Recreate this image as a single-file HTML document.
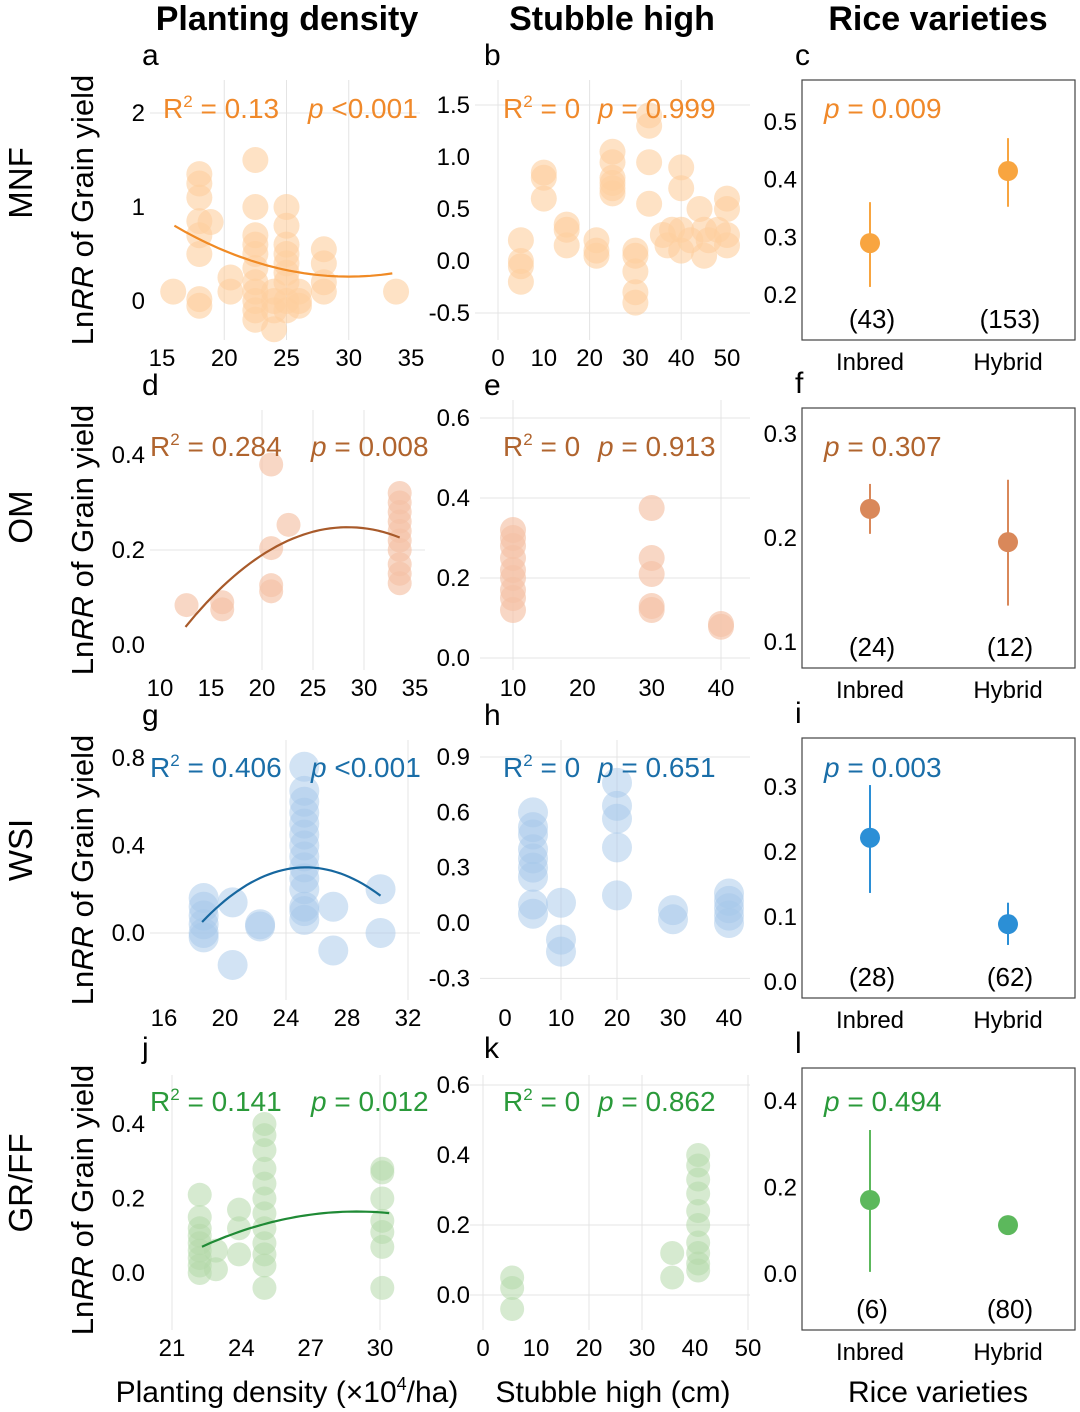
<!DOCTYPE html>
<html><head><meta charset="utf-8"><style>
html,body{margin:0;padding:0;background:#fff;}
svg{display:block;font-family:"Liberation Sans",sans-serif;}
</style></head><body>
<svg id="fig" width="1080" height="1412" viewBox="0 0 1080 1412" xmlns="http://www.w3.org/2000/svg">
<g id="static">
<text x="287" y="30" font-size="34" font-weight="bold" text-anchor="middle">Planting density</text>
<text x="612" y="30" font-size="34" font-weight="bold" text-anchor="middle">Stubble high</text>
<text x="938" y="30" font-size="34" font-weight="bold" text-anchor="middle">Rice varieties</text>
<text transform="translate(32,183) rotate(-90)" font-size="33" text-anchor="middle">MNF</text>
<text transform="translate(32,517) rotate(-90)" font-size="33" text-anchor="middle">OM</text>
<text transform="translate(32,850) rotate(-90)" font-size="33" text-anchor="middle">WSI</text>
<text transform="translate(32,1183) rotate(-90)" font-size="33" text-anchor="middle">GR/FF</text>
<text transform="translate(93,210) rotate(-90)" font-size="31" text-anchor="middle">Ln<tspan font-style="italic">RR</tspan> of Grain yield</text>
<text transform="translate(93,540) rotate(-90)" font-size="31" text-anchor="middle">Ln<tspan font-style="italic">RR</tspan> of Grain yield</text>
<text transform="translate(93,870) rotate(-90)" font-size="31" text-anchor="middle">Ln<tspan font-style="italic">RR</tspan> of Grain yield</text>
<text transform="translate(93,1200) rotate(-90)" font-size="31" text-anchor="middle">Ln<tspan font-style="italic">RR</tspan> of Grain yield</text>
<text x="287" y="1402" font-size="30" text-anchor="middle">Planting density (×10<tspan font-size="18" dy="-12">4</tspan><tspan dy="12">/ha)</tspan></text>
<text x="613" y="1402" font-size="30" text-anchor="middle">Stubble high (cm)</text>
<text x="938" y="1402" font-size="30" text-anchor="middle">Rice varieties</text>
</g>
</svg>
<script>
// ---------- data ----------
const aX=[15.9,18,18,18,18,18,18,18,18,18.9,20.5,20.5,22.5,22.5,22.5,22.5,22.5,22.5,22.5,22.5,22.5,22.5,22.5,24,24,24,24,25,25,25,25,25,25,25,25,25,26,26,26,28,28,28,28,33.8];
const aY=[0.1,1.35,1.25,1.1,0.85,0.7,0.5,0.02,-0.05,0.84,0.25,0.1,1.5,1.0,0.7,0.6,0.5,0.35,0.2,0.1,0,-0.1,-0.2,-0.3,-0.1,0,0.1,1.0,0.8,0.6,0.5,0.4,0.3,0.2,0,-0.1,0.1,0,-0.05,0.55,0.4,0.2,0.1,0.1];
const aFit=[0.26,30,0.00276]; const aFitRange=[16,33.5];
const bX=[5,5,5,5,10,10,10,15,15,15,21.5,21.5,21.5,25,25,25,25,25,25,30,30,30,30,30,33,33,33,33,36,37,38,40,40,40,40,42,44,45,45,46,48,50,50,50,50];
const bY=[0.2,0,-0.05,-0.2,0.85,0.8,0.6,0.35,0.3,0.15,0.2,0.1,0.05,1.05,0.95,0.8,0.75,0.7,0.65,0.1,0.05,-0.1,-0.3,-0.4,1.4,1.3,0.95,0.55,0.25,0.15,0.3,0.9,0.7,0.3,0.1,0.2,0.5,0.3,0.05,0.2,0.3,0.6,0.5,0.25,0.15];
const cMean=[0.29,0.415]; const cLo=[0.214,0.353]; const cHi=[0.361,0.472]; const cN=["(43)","(153)"];
const dX=[12.6,16.1,16.1,20.9,20.9,20.9,20.9,22.6,33.5,33.5,33.5,33.5,33.5,33.5,33.5,33.5,33.5,33.5];
const dY=[0.084,0.09,0.075,0.38,0.204,0.126,0.113,0.253,0.32,0.3,0.28,0.26,0.24,0.22,0.2,0.17,0.15,0.13];
const dFit=[0.248,28.4,-0.00083]; const dFitRange=[12.5,33.5];
const eX=[10,10,10,10,10,10,10,10,10,30,30,30,30,30,40,40];
const eY=[0.32,0.3,0.28,0.25,0.22,0.2,0.17,0.15,0.12,0.375,0.25,0.21,0.13,0.12,0.078,0.085];
const fMean=[0.228,0.196]; const fLo=[0.204,0.135]; const fHi=[0.252,0.256]; const fN=["(24)","(12)"];
const gX=[18.6,18.6,18.6,18.6,18.6,18.6,20.5,20.5,22.3,22.3,25.2,25.2,25.2,25.2,25.2,25.2,25.2,25.2,25.2,25.2,25.2,25.2,25.2,25.2,27.1,27.1,30.2,30.2];
const gY=[0.16,0.12,0.08,0.04,0.0,-0.02,0.14,-0.146,0.03,0.04,0.76,0.65,0.6,0.55,0.5,0.45,0.4,0.35,0.3,0.25,0.2,0.12,0.1,0.06,0.12,-0.08,0.2,0.0];
const gFit=[0.3,25.3,-0.0054]; const gFitRange=[18.5,30.2];
const hX=[5,5,5,5,5,5,5,5,5,10,10,10,20,20,20,20,20,30,30,40,40,40,40,40];
const hY=[0.6,0.52,0.48,0.4,0.35,0.3,0.25,0.1,0.05,0.11,-0.09,-0.155,0.76,0.635,0.565,0.41,0.15,0.07,0.02,0.16,0.12,0.08,0.04,0.0];
const iMean=[0.222,0.089]; const iLo=[0.137,0.057]; const iHi=[0.303,0.122]; const iN=["(28)","(62)"];
const jX=[22.2,22.2,22.2,22.2,22.2,22.2,22.2,22.2,22.2,22.9,22.9,23.9,23.9,23.9,25,25,25,25,25,25,25,25,25,25,25,25,30.1,30.1,30.1,30.1,30.1,30.1,30.1];
const jY=[0.21,0.15,0.12,0.1,0.08,0.06,0.04,0.02,0.0,0.06,0.01,0.17,0.12,0.05,0.4,0.37,0.33,0.28,0.24,0.2,0.16,0.12,0.08,0.05,0.02,-0.04,0.28,0.27,0.2,0.14,0.11,0.07,-0.04];
const jFit=[0.165,29,-0.0021]; const jFitRange=[22.3,30.4];
const kX=[5.5,5.5,5.5,35.7,35.7,40.6,40.6,40.6,40.6,40.6,40.6,40.6,40.6,40.6,40.6];
const kY=[0.05,0.02,-0.04,0.12,0.05,0.4,0.37,0.33,0.29,0.24,0.2,0.15,0.12,0.09,0.07];
const lMean=[0.171,0.113]; const lLo=[0.005,0.097]; const lHi=[0.333,0.13]; const lN=["(6)","(80)"];
const varietyCats=["Inbred","Hybrid"];
const aXTicks=[15,20,25,30,35], aYTicks=["0","1","2"], aYVals=[0,1,2];
const bXTicks=[0,10,20,30,40,50], bYVals=[-0.5,0,0.5,1,1.5];
const cYVals=[0.2,0.3,0.4,0.5];
const dXTicks=[10,15,20,25,30,35], dYVals=[0,0.2,0.4];
const eXTicks=[10,20,30,40], eYVals=[0,0.2,0.4,0.6];
const fYVals=[0.1,0.2,0.3];
const gXTicks=[16,20,24,28,32], gYVals=[0,0.4,0.8];
const hXTicks=[0,10,20,30,40], hYVals=[-0.3,0,0.3,0.6,0.9];
const iYVals=[0,0.1,0.2,0.3];
const jXTicks=[21,24,27,30], jYVals=[0,0.2,0.4];
const kXTicks=[0,10,20,30,40,50], kYVals=[0,0.2,0.4,0.6];
const lYVals=[0,0.2,0.4];

// ---------- rendering ----------
const NS="http://www.w3.org/2000/svg";
const svg=document.getElementById('fig');
function mk(tag,attrs,parent){const e=document.createElementNS(NS,tag);for(const k in attrs)e.setAttribute(k,attrs[k]);(parent||svg).appendChild(e);return e;}
function lin(v0,p0,v1,p1){return v=>p0+(v-v0)*(p1-p0)/(v1-v0);}
const COL={
 mnf:{pt:"#fdcf9e",op:0.6,line:"#f08a24",txt:"#f0892a",dot:"#f8a540"},
 om:{pt:"#f5c2a6",op:0.65,line:"#a85a2a",txt:"#b0642e",dot:"#d9885a"},
 wsi:{pt:"#a6c8ea",op:0.5,line:"#16679f",txt:"#1a6ea8",dot:"#2b8fd6"},
 gr:{pt:"#b5d8aa",op:0.55,line:"#1f8a35",txt:"#2a9a3a",dot:"#5cb85c"}
};
function fmt(v){return (Math.abs(v)<1e-9?0:v).toFixed(1);}
function scatter(o){
 const g=mk('g',{});
 
 
 const sx=lin(o.xc[0],o.xc[1],o.xc[2],o.xc[3]), sy=lin(o.yc[0],o.yc[1],o.yc[2],o.yc[3]);
 o.vgrid.forEach(v=>{const l=mk('line',{x1:sx(v),x2:sx(v),y1:o.top,y2:o.bot,stroke:"#e4e4e4","stroke-width":1},g);
  
  });
 o.hgrid.forEach(v=>{const l=mk('line',{x1:o.left,x2:o.right,y1:sy(v),y2:sy(v),stroke:"#e4e4e4","stroke-width":1},g);
  
  });
 o.X.forEach((x,i)=>{const c=mk('circle',{cx:sx(x),cy:sy(o.Y[i]),r:o.r,fill:o.c.pt,"fill-opacity":o.c.op},g);
  
  });
 if(o.fit){let d="";for(let k=0;k<=40;k++){const x=o.fr[0]+(o.fr[1]-o.fr[0])*k/40;const y=o.fit[0]+o.fit[2]*(x-o.fit[1])*(x-o.fit[1]);d+=(k?"L":"M")+sx(x).toFixed(1)+","+sy(y).toFixed(1);}
  const p=mk('path',{d:d,fill:"none",stroke:o.c.line,"stroke-width":2.2},g);
  
  }
 o.xt.forEach(v=>{const t=mk('text',{x:sx(v),y:o.xty,"font-size":24,"text-anchor":"middle"},g);t.textContent=v;
  
  });
 o.yv.forEach((v,i)=>{const t=mk('text',{x:o.ytx,y:sy(v)+8,"font-size":24,"text-anchor":"end"},g);t.textContent=o.yl?o.yl[i]:fmt(v);
  
  });
 const s=mk('text',{x:o.sx,y:o.sy,"font-size":28,fill:o.c.txt},g);
 s.innerHTML='R<tspan font-size="17" dy="-11">2</tspan><tspan dy="11"> = '+o.r2+'</tspan><tspan x="'+o.px+'" font-style="italic">p</tspan><tspan> '+o.pv+'</tspan>';
 
 
 const L=mk('text',{x:o.lx,y:o.ly,"font-size":30},g);L.textContent=o.letter;
 
 
}
function pointRange(o){
 const g=mk('g',{});
 
 
 const sy=lin(o.yc[0],o.yc[1],o.yc[2],o.yc[3]);const xs=[870,1008];
 const b=mk('rect',{x:802,y:o.top,width:273,height:o.bot-o.top,fill:"none",stroke:"#444","stroke-width":1.2},g);
 
 
 o.yv.forEach(v=>{const t=mk('text',{x:797,y:sy(v)+8,"font-size":24,"text-anchor":"end"},g);t.textContent=fmt(v);
  
  });
 o.mean.forEach((m,i)=>{
  const l=mk('line',{x1:xs[i],x2:xs[i],y1:sy(o.lo[i]),y2:sy(o.hi[i]),stroke:o.c.dot,"stroke-width":2},g);
  
  
  const c=mk('circle',{cx:xs[i],cy:sy(m),r:10,fill:o.c.dot},g);
  
  
  const n=mk('text',{x:xs[i]+2,y:o.bot-12,"font-size":26,"text-anchor":"middle"},g);n.textContent=o.n[i];
  
  
  const cl=mk('text',{x:xs[i],y:o.bot+30,"font-size":24,"text-anchor":"middle"},g);cl.textContent=varietyCats[i];
  
  
 });
 const s=mk('text',{x:824,y:o.sy,"font-size":28,fill:o.c.txt},g);
 s.innerHTML='<tspan font-style="italic">p</tspan> = '+o.pv;
 
 
 const L=mk('text',{x:795,y:o.top-15,"font-size":30},g);L.textContent=o.letter;
 
 
}
// Row 1
scatter({name:"panel-a",letter:"a",lx:142,ly:65,X:aX,Y:aY,r:13,c:COL.mnf,xc:[15,162,35,411],yc:[0,301,2,113],left:150,right:420,top:80,bot:340,vgrid:[20,25,30],hgrid:[2],fit:aFit,fr:aFitRange,xt:aXTicks,xty:366,yv:aYVals,yl:aYTicks,ytx:145,sx:163,sy:118,r2:"0.13",px:308,pv:"<0.001"});
scatter({name:"panel-b",letter:"b",lx:484,ly:65,X:bX,Y:bY,r:13,c:COL.mnf,xc:[0,498,50,727],yc:[-0.5,313,1.5,105],left:475,right:750,top:80,bot:340,vgrid:[0,20,40],hgrid:[1.5,-0.5],fit:null,xt:bXTicks,xty:366,yv:bYVals,ytx:470,sx:503,sy:118,r2:"0",px:598,pv:"= 0.999"});
pointRange({name:"panel-c",letter:"c",top:80,bot:340,yc:[0.2,295,0.5,122],yv:cYVals,mean:cMean,lo:cLo,hi:cHi,n:cN,c:COL.mnf,sy:118,pv:"0.009"});
// Row 2
scatter({name:"panel-d",letter:"d",lx:142,ly:395,X:dX,Y:dY,r:12,c:COL.om,xc:[10,160,35,415],yc:[0,645,0.4,455],left:150,right:425,top:410,bot:670,vgrid:[20,25,30],hgrid:[0.2],fit:dFit,fr:dFitRange,xt:dXTicks,xty:696,yv:dYVals,ytx:145,sx:150,sy:456,r2:"0.284",px:311,pv:"= 0.008"});
scatter({name:"panel-e",letter:"e",lx:484,ly:395,X:eX,Y:eY,r:13,c:COL.om,xc:[10,513,40,721],yc:[0,658,0.6,418],left:480,right:750,top:400,bot:670,vgrid:[10,40],hgrid:[0,0.2,0.4,0.6],fit:null,xt:eXTicks,xty:696,yv:eYVals,ytx:470,sx:503,sy:456,r2:"0",px:598,pv:"= 0.913"});
pointRange({name:"panel-f",letter:"f",top:408,bot:668,yc:[0.1,642,0.3,434],yv:fYVals,mean:fMean,lo:fLo,hi:fHi,n:fN,c:COL.om,sy:456,pv:"0.307"});
// Row 3
scatter({name:"panel-g",letter:"g",lx:142,ly:725,X:gX,Y:gY,r:15,c:COL.wsi,xc:[16,164,32,408],yc:[0,933,0.8,758],left:150,right:420,top:740,bot:1000,vgrid:[24,32],hgrid:[0],fit:gFit,fr:gFitRange,xt:gXTicks,xty:1026,yv:gYVals,ytx:145,sx:150,sy:777,r2:"0.406",px:311,pv:"<0.001"});
scatter({name:"panel-h",letter:"h",lx:484,ly:725,X:hX,Y:hY,r:15,c:COL.wsi,xc:[0,505,40,729],yc:[0,923,0.9,757],left:480,right:750,top:740,bot:1000,vgrid:[10,20],hgrid:[0.9,-0.3],fit:null,xt:hXTicks,xty:1026,yv:hYVals,ytx:470,sx:503,sy:777,r2:"0",px:598,pv:"= 0.651"});
pointRange({name:"panel-i",letter:"i",top:738,bot:998,yc:[0,982,0.3,787],yv:iYVals,mean:iMean,lo:iLo,hi:iHi,n:iN,c:COL.wsi,sy:777,pv:"0.003"});
// Row 4
scatter({name:"panel-j",letter:"j",lx:142,ly:1058,X:jX,Y:jY,r:12,c:COL.gr,xc:[21,172,30,380],yc:[0,1273,0.4,1124],left:150,right:425,top:1075,bot:1330,vgrid:[21,30],hgrid:[],fit:jFit,fr:jFitRange,xt:jXTicks,xty:1356,yv:jYVals,ytx:145,sx:150,sy:1111,r2:"0.141",px:311,pv:"= 0.012"});
scatter({name:"panel-k",letter:"k",lx:484,ly:1058,X:kX,Y:kY,r:12,c:COL.gr,xc:[0,483,50,748],yc:[0,1295,0.6,1085],left:470,right:750,top:1075,bot:1330,vgrid:[0,20,30,50],hgrid:[0,0.2,0.6],fit:null,xt:kXTicks,xty:1356,yv:kYVals,ytx:470,sx:503,sy:1111,r2:"0",px:598,pv:"= 0.862"});
pointRange({name:"panel-l",letter:"l",top:1068,bot:1330,yc:[0,1274,0.4,1101],yv:lYVals,mean:lMean,lo:lLo,hi:lHi,n:lN,c:COL.gr,sy:1111,pv:"0.494"});
</script>
</body></html>
